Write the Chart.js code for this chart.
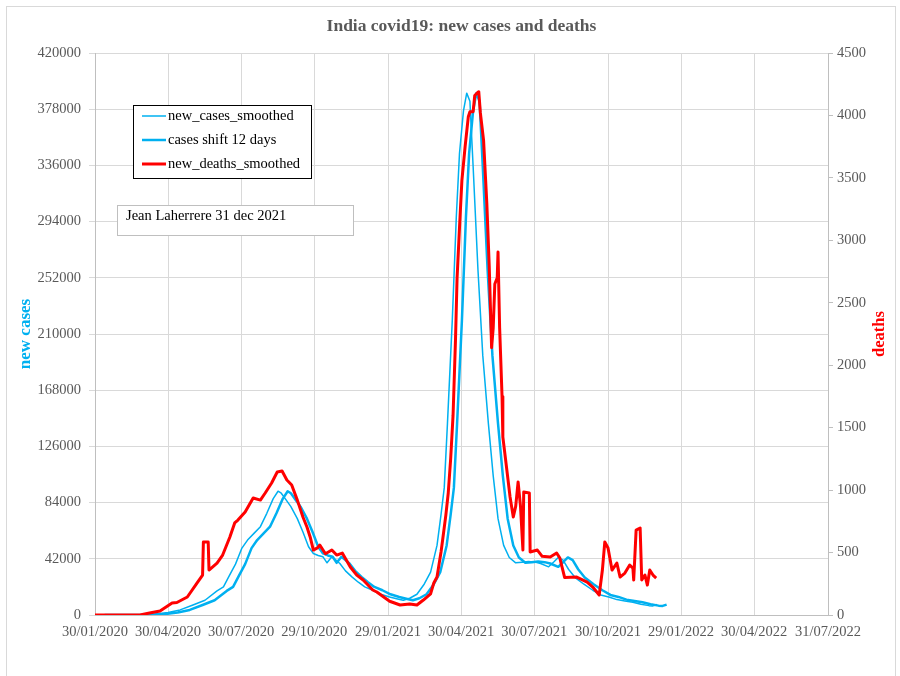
<!DOCTYPE html>
<html>
<head>
<meta charset="utf-8">
<title>India covid19: new cases and deaths</title>
<script src="https://cdn.jsdelivr.net/npm/chart.js@4.4.0/dist/chart.umd.min.js"></script>
<style>
	html, body { margin: 0; padding: 0; background: #fff; }
	#wrap { width: 900px; height: 676px; }
</style>
</head>
<body>
<div id="wrap"><canvas id="myChart" width="900" height="676"></canvas></div>
<script>
// x values are days counted from 30/01/2020
const xTickDays = [0, 91, 182, 273, 365, 456, 547, 639, 730, 821, 913];
const xTickLabels = ["30/01/2020", "30/04/2020", "30/07/2020", "29/10/2020", "29/01/2021", "30/04/2021",
	"30/07/2021", "30/10/2021", "29/01/2022", "30/04/2022", "31/07/2022"];

const caseDays = [0, 40, 60, 75, 91, 106, 122, 137, 152, 160, 167, 175, 183, 190, 198, 206, 214, 222, 228, 232,
	238, 244, 252, 259, 266, 272, 278, 284, 289, 295, 300, 305, 312, 320, 328, 336, 346, 356, 367, 377,
	384, 392, 401, 410, 418, 426, 431, 435, 439, 445, 450, 454, 459, 463, 467, 471, 477, 483, 490, 496,
	502, 509, 516, 524, 532, 540, 548, 555, 565, 572, 577, 583, 590, 598, 609, 620, 630, 640, 650, 660,
	670, 680, 690, 695, 700];
const newCases = [0, 0, 100, 700, 1800, 3800, 7500, 11000, 18000, 21000, 29000, 38000, 50000, 56000, 61000, 66000, 76000, 87000, 92500, 91000,
	86000, 81000, 72000, 62000, 51000, 46000, 44500, 43500, 39000, 43500, 41000, 38500, 33000, 28500, 24500, 21000, 18500, 15500, 13500, 12000,
	11000, 12500, 15500, 23000, 32000, 52000, 75000, 95000, 143000, 220000, 297000, 345000, 377000, 390000, 384000, 335000, 258000, 194000, 143000, 104000,
	72000, 52000, 43000, 39000, 39500, 40000, 39500, 38500, 36000, 40000, 43000, 41000, 34000, 28000, 23000, 18500, 15000, 13500, 11500, 10500,
	9500, 8000, 7000, 6800, 7800];
const shiftDays = 12;

const deathDays = [0, 56, 68, 81, 96, 102, 115, 127, 134, 135, 141, 142, 152, 159, 168, 174, 178, 187, 197, 206,
	212, 220, 227, 233, 239, 245, 252, 259, 264, 268, 272, 277, 280, 287, 295, 301, 308, 318, 326, 334,
	346, 351, 367, 380, 392, 401, 409, 418, 422, 426, 431, 433, 437, 440, 443, 446, 449, 451, 454, 457,
	461, 465, 467, 471, 473, 476, 478, 480, 484, 488, 491, 494, 496, 498, 501, 502, 504, 507, 508, 513,
	517, 521, 524, 527, 530, 533, 534, 541, 542, 551, 557, 567, 575, 579, 585, 600, 613, 620, 628, 632,
	635, 639, 644, 650, 654, 660, 666, 670, 671, 674, 679, 681, 685, 688, 691, 695, 699];
const newDeaths = [0, 0, 16, 32, 96, 100, 144, 256, 320, 585, 585, 360, 416, 480, 625, 737, 760, 825, 937, 920,
	977, 1057, 1145, 1153, 1081, 1041, 920, 785, 705, 625, 520, 537, 560, 490, 520, 480, 496, 384, 320, 280,
	200, 184, 110, 80, 88, 80, 120, 170, 256, 304, 504, 600, 800, 977, 1250, 1600, 2200, 2700, 3100, 3480,
	3750, 3990, 4030, 4030, 4160, 4180, 4190, 4020, 3800, 3300, 2800, 2140, 2300, 2650, 2700, 2906, 2300, 1750, 1425, 1160,
	945, 785, 870, 1065, 870, 520, 985, 977, 504, 520, 470, 464, 496, 456, 300, 304, 264, 224, 160, 360,
	585, 537, 360, 416, 304, 336, 400, 376, 280, 680, 697, 280, 320, 240, 360, 320, 296];

const chartTitle = "India covid19: new cases and deaths";
const noteText = "Jean Laherrere 31 dec 2021";

const serif = "'Liberation Serif', 'Times New Roman', serif";
const blue = "#00B0F0";
const red = "#FF0000";
const grey = "#595959";

function points(days, values, shift) {
	return days.map(function (d, i) {
		return { x: d + shift, y: values[i] };
	});
}

const overlay = {
	id: "overlay",
	afterDraw: function (chart) {
		var ctx = chart.ctx;
		var area = chart.chartArea;
		ctx.save();

		ctx.strokeStyle = "#d9d9d9";
		ctx.lineWidth = 1;
		ctx.strokeRect(6.5, 6.5, 889, 700);

		ctx.fillStyle = grey;
		ctx.font = "bold 17.5px " + serif;
		ctx.textAlign = "center";
		ctx.textBaseline = "middle";
		ctx.fillText(chartTitle, (area.left + area.right) / 2, 26);

		// axis titles, both read bottom to top
		var midY = (area.top + area.bottom) / 2;
		ctx.font = "bold 17px " + serif;
		ctx.fillStyle = blue;
		ctx.save();
		ctx.translate(26, midY);
		ctx.rotate(-Math.PI / 2);
		ctx.fillText("new cases", 0, 0);
		ctx.restore();
		ctx.font = "bold 16.5px " + serif;
		ctx.fillStyle = red;
		ctx.save();
		ctx.translate(880, midY);
		ctx.rotate(-Math.PI / 2);
		ctx.fillText("deaths", 0, 0);
		ctx.restore();

		// legend
		ctx.fillStyle = "#fff";
		ctx.fillRect(133, 105, 178, 73);
		ctx.strokeStyle = "#000";
		ctx.strokeRect(133.5, 105.5, 178, 73);
		ctx.font = "14.5px " + serif;
		ctx.textAlign = "left";
		chart.data.datasets.forEach(function (ds, i) {
			var y = 116 + i * 24;
			ctx.strokeStyle = ds.borderColor;
			ctx.lineWidth = ds.borderWidth;
			ctx.beginPath();
			ctx.moveTo(142, y);
			ctx.lineTo(166, y);
			ctx.stroke();
			ctx.fillStyle = "#000";
			ctx.fillText(ds.label, 168, y);
		});

		// author note
		ctx.lineWidth = 1;
		ctx.fillStyle = "#fff";
		ctx.fillRect(117, 205, 236, 30);
		ctx.strokeStyle = "#bfbfbf";
		ctx.strokeRect(117.5, 205.5, 236, 30);
		ctx.fillStyle = "#000";
		ctx.fillText(noteText, 126, 216);

		ctx.restore();
	}
};

var ctx = document.getElementById("myChart").getContext("2d");
var myChart = new Chart(ctx, {
	type: "line",
	data: {
		datasets: [
			{
				label: "new_cases_smoothed",
				data: points(caseDays, newCases, 0),
				borderColor: blue,
				borderWidth: 1.5,
				yAxisID: "y",
				order: 2,
			},
			{
				label: "cases shift " + shiftDays + " days",
				data: points(caseDays, newCases, shiftDays),
				borderColor: blue,
				borderWidth: 2.5,
				yAxisID: "y",
				order: 1,
			},
			{
				label: "new_deaths_smoothed",
				data: points(deathDays, newDeaths, 0),
				borderColor: red,
				borderWidth: 3,
				yAxisID: "y1",
				order: 0,
			},
		],
	},
	options: {
		responsive: false,
		devicePixelRatio: 1,
		animation: false,
		events: [],
		elements: {
			point: { radius: 0 },
			line: { tension: 0, borderJoinStyle: "round", fill: false },
		},
		layout: { padding: { top: 53, left: 0, right: 0, bottom: 0 } },
		plugins: {
			legend: { display: false },
			title: { display: false },
			tooltip: { enabled: false },
		},
		scales: {
			x: {
				type: "linear",
				min: xTickDays[0],
				max: xTickDays[xTickDays.length - 1],
				afterBuildTicks: function (scale) {
					scale.ticks = xTickDays.map(function (d) { return { value: d }; });
				},
				afterFit: function (scale) { scale.height = 61; },
				ticks: {
					autoSkip: false,
					maxRotation: 0,
					padding: 8,
					color: grey,
					font: { family: serif, size: 14.5 },
					callback: function (value, index) { return xTickLabels[index]; },
				},
				grid: { color: "#d9d9d9", drawTicks: false },
				border: { color: "#bfbfbf" },
			},
			y: {
				position: "left",
				min: 0,
				max: 420000,
				afterFit: function (scale) { scale.width = 95; },
				ticks: {
					stepSize: 42000,
					padding: 8,
					color: grey,
					font: { family: serif, size: 14.5 },
					callback: function (value) { return String(value); },
				},
				grid: { color: "#d9d9d9", tickLength: 6 },
				border: { color: "#bfbfbf" },
			},
			y1: {
				position: "right",
				min: 0,
				max: 4500,
				afterFit: function (scale) { scale.width = 72; },
				ticks: {
					stepSize: 500,
					padding: 4,
					color: grey,
					font: { family: serif, size: 14.5 },
					callback: function (value) { return String(value); },
				},
				grid: { drawOnChartArea: false, color: "#bfbfbf", tickLength: 5 },
				border: { color: "#bfbfbf" },
			},
		},
	},
	plugins: [overlay],
});
</script>
</body>
</html>
